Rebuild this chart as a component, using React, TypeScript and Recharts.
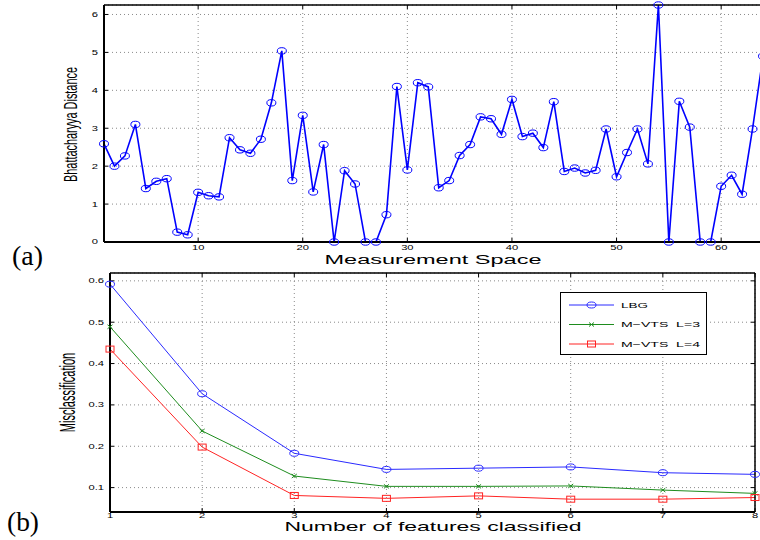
import React from 'react';
import {
  LineChart,
  Line,
  XAxis,
  YAxis,
  CartesianGrid,
  Legend,
} from 'recharts';

// ---------- Data: panel (a) ----------
const measurementIndex = [
  1, 2, 3, 4, 5, 6, 7, 8, 9, 10, 11, 12, 13, 14, 15, 16, 17, 18, 19, 20, 21, 22,
  23, 24, 25, 26, 27, 28, 29, 30, 31, 32, 33, 34, 35, 36, 37, 38, 39, 40, 41, 42,
  43, 44, 45, 46, 47, 48, 49, 50, 51, 52, 53, 54, 55, 56, 57, 58, 59, 60, 61, 62,
  63, 64,
];
const bhattacharyyaDistance = [
  2.59, 2.0, 2.27, 3.1, 1.41, 1.6, 1.67, 0.26, 0.19, 1.31, 1.22, 1.19, 2.75, 2.43,
  2.34, 2.71, 3.67, 5.04, 1.62, 3.34, 1.32, 2.57, 0, 1.88, 1.53, 0, 0, 0.72, 4.1,
  1.9, 4.2, 4.09, 1.43, 1.62, 2.28, 2.57, 3.3, 3.25, 2.84, 3.76, 2.78, 2.87, 2.49,
  3.7, 1.86, 1.95, 1.82, 1.89, 2.98, 1.72, 2.36, 2.98, 2.06, 6.25, 0, 3.71, 3.03,
  0, 0, 1.47, 1.76, 1.26, 2.98, 4.9,
];
const topXTicks = [10, 20, 30, 40, 50, 60];
const topYTicks = [0, 1, 2, 3, 4, 5, 6];
const topXDomain = [1, 64];
const topYDomain = [0, 6.25];

// ---------- Data: panel (b) ----------
const featureCounts = [1, 2, 3, 4, 5, 6, 7, 8];
const lbgValues = [0.592, 0.327, 0.183, 0.144, 0.147, 0.15, 0.136, 0.132];
const mvtsL3Values = [0.489, 0.237, 0.128, 0.103, 0.103, 0.104, 0.094, 0.086];
const mvtsL4Values = [0.435, 0.198, 0.081, 0.074, 0.08, 0.072, 0.072, 0.076];
const bottomXTicks = [1, 2, 3, 4, 5, 6, 7, 8];
const bottomYTicks = [0.1, 0.2, 0.3, 0.4, 0.5, 0.6];
const bottomXDomain = [1, 8];
const bottomYDomain = [0.041, 0.619];

const seriesNames = ['LBG', 'M\u2212VTS  L=3', 'M\u2212VTS  L=4'];
const seriesKeys = ['lbg', 'l3', 'l4'];
const seriesColors = ['#2a2aff', '#1e8c1e', '#ff2424'];

const topData = measurementIndex.map((m, i) => ({ m, d: bhattacharyyaDistance[i] }));
const bottomData = featureCounts.map((f, i) => ({
  f,
  lbg: lbgValues[i],
  l3: mvtsL3Values[i],
  l4: mvtsL4Values[i],
}));

const TICK_FONT = "'Liberation Sans', Arial, sans-serif";
const SERIF = "'Liberation Serif', 'Times New Roman', serif";

const makeTick = (kind: 'x' | 'y', decimals: number) => (props: any) => {
  const { x, y, payload } = props;
  const label = Number(payload.value).toFixed(decimals);
  return (
    <g transform={`translate(${x},${y})`}>
      <text
        transform="scale(1.6,1)"
        x={0}
        y={0}
        dy={kind === 'x' ? '0.71em' : '0.35em'}
        textAnchor={kind === 'x' ? 'middle' : 'end'}
        fontSize={7}
        fontFamily={TICK_FONT}
        fill="#000"
      >
        {label}
      </text>
    </g>
  );
};

const noTick = () => <g />;

const ellipseDot = (rx: number, ry: number, color: string, w: number) => (p: any) => (
  <ellipse
    key={`e-${p.index}`}
    cx={p.cx}
    cy={p.cy}
    rx={rx}
    ry={ry}
    fill="none"
    stroke={color}
    strokeWidth={w}
  />
);

const crossDot = (color: string) => (p: any) => (
  <path
    key={`x-${p.index}`}
    d={`M${p.cx - 2.5},${p.cy - 2} L${p.cx + 2.5},${p.cy + 2} M${p.cx - 2.5},${p.cy + 2} L${p.cx + 2.5},${p.cy - 2}`}
    stroke={color}
    strokeWidth={1}
    fill="none"
  />
);

const squareDot = (color: string) => (p: any) => (
  <rect
    key={`s-${p.index}`}
    x={p.cx - 4}
    y={p.cy - 3}
    width={8}
    height={6}
    fill="none"
    stroke={color}
    strokeWidth={1}
  />
);

const LegendBox = () => (
  <div
    style={{
      width: 147,
      height: 63,
      boxSizing: 'border-box',
      border: '1.5px solid #000',
      background: '#fff',
    }}
  >
    <svg width={144} height={60} style={{ display: 'block' }}>
      {seriesNames.map((name, i) => {
        const cy = 12 + i * 19.5;
        const c = seriesColors[i];
        return (
          <g key={name}>
            <line x1={8} x2={53} y1={cy} y2={cy} stroke={c} strokeWidth={1} />
            {i === 0 && <ellipse cx={30.5} cy={cy} rx={4.5} ry={3} fill="none" stroke={c} strokeWidth={1} />}
            {i === 1 && (
              <path
                d={`M28,${cy - 2} L33,${cy + 2} M28,${cy + 2} L33,${cy - 2}`}
                stroke={c}
                strokeWidth={1}
              />
            )}
            {i === 2 && <rect x={26.5} y={cy - 3} width={8} height={6} fill="none" stroke={c} strokeWidth={1} />}
            <text
              x={60}
              y={cy}
              dy="0.35em"
              fontSize={8}
              fontFamily={TICK_FONT}
              fill="#000"
              textLength={i === 0 ? 27 : 79}
              lengthAdjust="spacingAndGlyphs"
              style={{ whiteSpace: 'pre' }}
            >
              {name}
            </text>
          </g>
        );
      })}
    </svg>
  </div>
);

const gridProps = { stroke: '#8a8a8a', strokeDasharray: '1 3', strokeWidth: 1 };

export default function App() {
  return (
    <div
      style={{
        position: 'absolute',
        left: 0,
        top: 0,
        width: 760,
        height: 540,
        overflow: 'hidden',
        background: '#fff',
      }}
    >
      {/* Panel (a) */}
      <div style={{ position: 'absolute', left: 0, top: 0 }}>
        <LineChart
          width={800}
          height={270}
          data={topData}
          margin={{ top: 5, right: 37, bottom: 27, left: 103 }}
        >
          <CartesianGrid {...gridProps} />
          <XAxis
            dataKey="m"
            type="number"
            domain={topXDomain}
            ticks={topXTicks}
            height={1}
            tickSize={-4}
            tickMargin={7}
            tick={makeTick('x', 0)}
            axisLine={{ stroke: '#000', strokeWidth: 2 }}
            tickLine={{ stroke: '#000' }}
          />
          <XAxis
            xAxisId="top"
            dataKey="m"
            type="number"
            orientation="top"
            mirror
            domain={topXDomain}
            ticks={topXTicks}
            height={1}
            tickSize={4}
            tick={noTick}
            axisLine={{ stroke: '#000', strokeWidth: 1.5 }}
            tickLine={{ stroke: '#000' }}
          />
          <YAxis
            type="number"
            domain={topYDomain}
            ticks={topYTicks}
            width={1}
            tickSize={-4}
            tickMargin={10}
            tick={makeTick('y', 0)}
            axisLine={{ stroke: '#000', strokeWidth: 2 }}
            tickLine={{ stroke: '#000' }}
          />
          <YAxis
            yAxisId="right"
            type="number"
            orientation="right"
            mirror
            domain={topYDomain}
            ticks={topYTicks}
            width={1}
            tickSize={4}
            tick={noTick}
            axisLine={{ stroke: '#000', strokeWidth: 1.5 }}
            tickLine={{ stroke: '#000' }}
          />
          <Line
            dataKey="d"
            stroke="#0000ff"
            strokeWidth={1.6}
            dot={ellipseDot(4.5, 3.2, '#0000ff', 1)}
            isAnimationActive={false}
          />
        </LineChart>
      </div>

      {/* Panel (b) */}
      <div style={{ position: 'absolute', left: 0, top: 260 }}>
        <LineChart
          width={760}
          height={280}
          data={bottomData}
          margin={{ top: 13, right: 5, bottom: 27, left: 109 }}
        >
          <CartesianGrid {...gridProps} />
          <XAxis
            dataKey="f"
            type="number"
            domain={bottomXDomain}
            ticks={bottomXTicks}
            height={1}
            tickSize={-4}
            tickMargin={5}
            tick={makeTick('x', 0)}
            axisLine={{ stroke: '#000', strokeWidth: 2 }}
            tickLine={{ stroke: '#000' }}
          />
          <XAxis
            xAxisId="top"
            dataKey="f"
            type="number"
            orientation="top"
            mirror
            domain={bottomXDomain}
            ticks={bottomXTicks}
            height={1}
            tickSize={4}
            tick={noTick}
            axisLine={{ stroke: '#000', strokeWidth: 1.5 }}
            tickLine={{ stroke: '#000' }}
          />
          <YAxis
            type="number"
            domain={bottomYDomain}
            ticks={bottomYTicks}
            allowDataOverflow
            width={1}
            tickSize={-4}
            tickMargin={10}
            tick={makeTick('y', 1)}
            axisLine={{ stroke: '#000', strokeWidth: 2 }}
            tickLine={{ stroke: '#000' }}
          />
          <YAxis
            yAxisId="right"
            type="number"
            orientation="right"
            mirror
            domain={bottomYDomain}
            ticks={bottomYTicks}
            allowDataOverflow
            width={1}
            tickSize={4}
            tick={noTick}
            axisLine={{ stroke: '#000', strokeWidth: 1.5 }}
            tickLine={{ stroke: '#000' }}
          />
          <Legend
            layout="vertical"
            align="center"
            verticalAlign="middle"
            wrapperStyle={{ left: 560, top: 32, width: 147, height: 63 }}
            content={() => <LegendBox />}
          />
          <Line
            dataKey={seriesKeys[0]}
            name={seriesNames[0]}
            stroke={seriesColors[0]}
            strokeWidth={1}
            dot={ellipseDot(4.5, 3, seriesColors[0], 1)}
            isAnimationActive={false}
          />
          <Line
            dataKey={seriesKeys[1]}
            name={seriesNames[1]}
            stroke={seriesColors[1]}
            strokeWidth={1}
            dot={crossDot(seriesColors[1])}
            isAnimationActive={false}
          />
          <Line
            dataKey={seriesKeys[2]}
            name={seriesNames[2]}
            stroke={seriesColors[2]}
            strokeWidth={1}
            dot={squareDot(seriesColors[2])}
            isAnimationActive={false}
          />
        </LineChart>
      </div>

      {/* Titles and panel labels */}
      <svg
        width={760}
        height={540}
        style={{ position: 'absolute', left: 0, top: 0, pointerEvents: 'none' }}
      >
        <text
          x={12}
          y={265}
          fontSize={27}
          fontFamily={SERIF}
          textLength={31}
          lengthAdjust="spacingAndGlyphs"
        >
          (a)
        </text>
        <text
          x={7}
          y={531}
          fontSize={28}
          fontFamily={SERIF}
          textLength={32}
          lengthAdjust="spacingAndGlyphs"
        >
          (b)
        </text>
        <text
          x={433}
          y={263.5}
          fontSize={12.5}
          textAnchor="middle"
          fontFamily={TICK_FONT}
          textLength={217}
          lengthAdjust="spacingAndGlyphs"
        >
          Measurement Space
        </text>
        <text
          x={433}
          y={531}
          fontSize={13}
          textAnchor="middle"
          fontFamily={TICK_FONT}
          textLength={297}
          lengthAdjust="spacingAndGlyphs"
        >
          Number of features classified
        </text>
        <g transform="translate(77,124.5) rotate(-90) scale(0.605,1)">
          <text x={0} y={0} fontSize={18} textAnchor="middle" fontFamily={TICK_FONT}>
            Bhattacharyya Distance
          </text>
        </g>
        <g transform="translate(75,392.5) rotate(-90) scale(0.5,1)">
          <text x={0} y={0} fontSize={22} textAnchor="middle" fontFamily={TICK_FONT}>
            Misclassification
          </text>
        </g>
      </svg>
    </div>
  );
}
